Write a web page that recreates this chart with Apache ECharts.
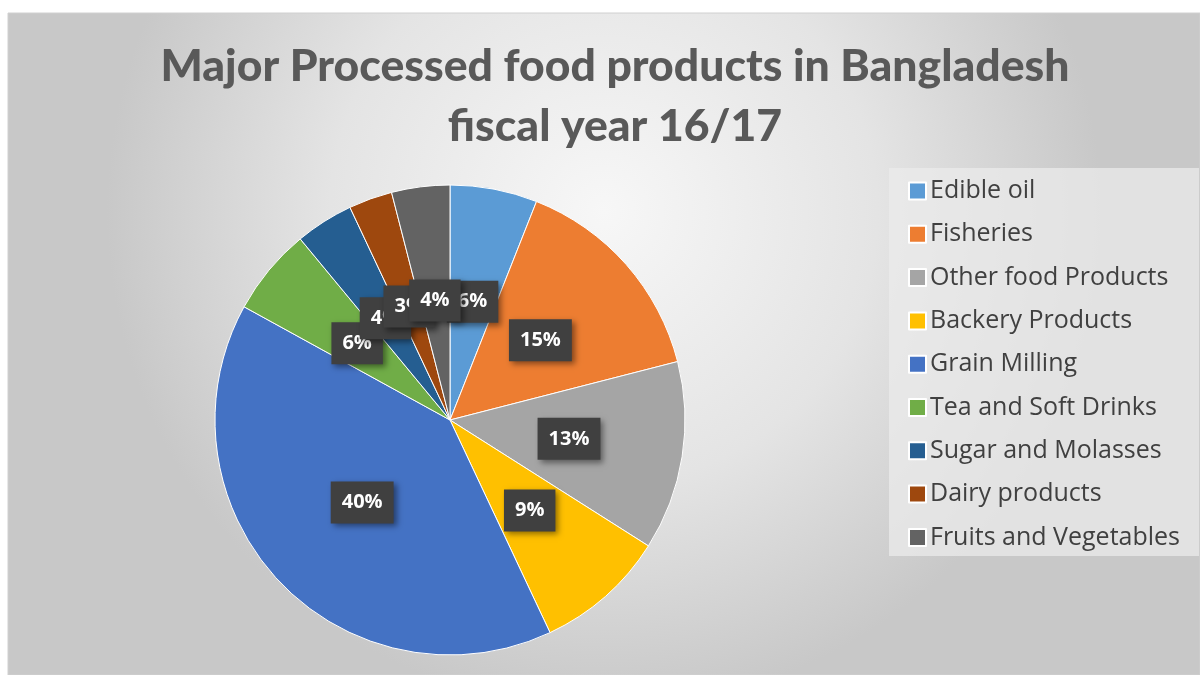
<!DOCTYPE html>
<html>
<head>
<meta charset="utf-8">
<script src="https://cdn.jsdelivr.net/npm/echarts@6/dist/echarts.min.js"></script>
<style>
html,body{margin:0;padding:0;background:#ffffff;}
#main{width:1200px;height:675px;}
</style>
</head>
<body>
<div id="main"></div>
<script>
const categories = ["Edible oil","Fisheries","Other food Products","Backery Products","Grain Milling","Tea and Soft Drinks","Sugar and Molasses","Dairy products","Fruits and Vegetables"];
const values = [6,15,13,9,40,6,4,3,4];
const colors = ["#5b9bd5","#ed7d31","#a5a5a5","#ffc000","#4472c4","#70ad47","#255e91","#9e480e","#636363"];
const titleLines = ["Major Processed food products in Bangladesh","fiscal year 16/17"];

const chart = echarts.init(document.getElementById('main'));
const data = categories.map((c,i)=>({name:c,value:values[i],itemStyle:{color:colors[i]}}));
chart.setOption({
  animation:false,
  graphic:[{
    type:'rect', z:-10, silent:true,
    shape:{x:8,y:13,width:1192,height:662},
    style:{
      fill:new echarts.graphic.RadialGradient(0.5,0.3,0.75,[
        {offset:0,color:'#f7f7f7'},
        {offset:0.55,color:'#e4e4e4'},
        {offset:1,color:'#c8c8c8'}
      ]),
      stroke:'#d0d0d0', lineWidth:1
    }
  },{
    type:'rect', z:-5, silent:true,
    shape:{x:889,y:168,width:310,height:388},
    style:{fill:'rgba(235,235,235,0.75)'}
  }],
  title:{
    text:titleLines.join('\n'),
    left:610, top:32, textAlign:'center',
    textStyle:{fontFamily:'Lato',fontWeight:900,fontSize:44.5,color:'#595959',lineHeight:60}
  },
  legend:{
    orient:'vertical', left:903, top:173,
    itemWidth:17, itemHeight:17, itemGap:17.3,
    icon:'rect',
    textStyle:{fontFamily:'Open Sans',fontSize:25,lineHeight:26,color:'#404040',padding:[0,0,0,-1]},
    data:categories
  },
  series:[{
    type:'pie',
    center:[450,420], radius:235,
    startAngle:90, clockwise:true,
    data:data,
    itemStyle:{borderColor:'#ffffff',borderWidth:1},
    label:{
      show:true, position:'inside',
      formatter:'{d}%',
      fontFamily:'Open Sans', fontWeight:'bold', fontSize:20, color:'#ffffff',
      backgroundColor:'#404040',
      padding:[11,11,11,11],
      shadowColor:'rgba(0,0,0,0.45)', shadowBlur:6, shadowOffsetX:3, shadowOffsetY:3
    },
    labelLayout:{hideOverlap:false},
    labelLine:{show:false},
    emphasis:{disabled:true}
  }]
});
</script>
</body>
</html>
